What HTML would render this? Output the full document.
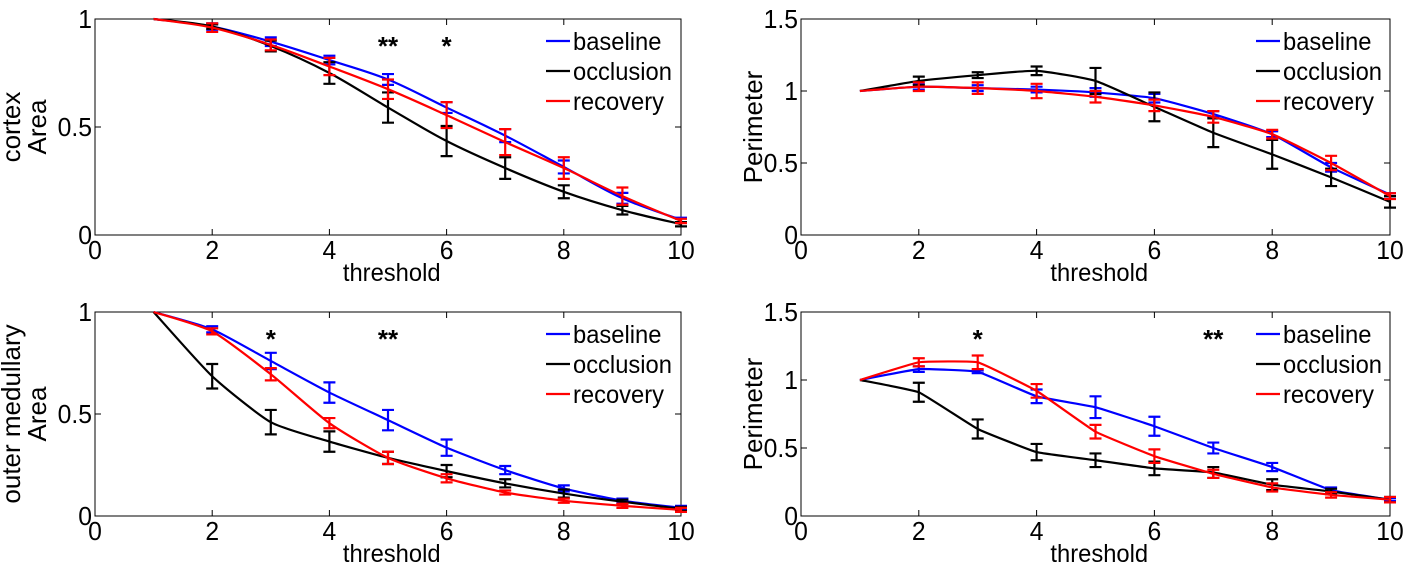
<!DOCTYPE html>
<html><head><meta charset="utf-8">
<style>
html,body{margin:0;padding:0;background:#fff;}
svg{display:block;font-family:"Liberation Sans",Arial,sans-serif;}
</style></head>
<body>
<svg id="fig" width="1414" height="571" viewBox="0 0 1414 571" xmlns="http://www.w3.org/2000/svg"></svg>
<script>
const xCats = [1,2,3,4,5,6,7,8,9,10];
const xTicks = [0,2,4,6,8,10];
// Panel A: cortex area
const aBase = [1,0.965,0.895,0.81,0.72,0.59,0.46,0.315,0.17,0.07];
const aBaseErr = [0,0.015,0.02,0.02,0.025,0.025,0.03,0.03,0.025,0.01];
const aOcc = [1,0.965,0.875,0.75,0.59,0.435,0.31,0.2,0.115,0.05];
const aOccErr = [0,0.01,0.025,0.05,0.07,0.07,0.05,0.03,0.02,0.01];
const aRec = [1,0.96,0.88,0.78,0.675,0.555,0.43,0.31,0.18,0.065];
const aRecErr = [0,0.02,0.025,0.04,0.045,0.06,0.06,0.05,0.04,0.01];
const aStars = [[5,"**"],[6,"*"]];
// Panel B: cortex perimeter
const bBase = [1,1.03,1.02,1.01,0.99,0.95,0.84,0.70,0.47,0.28];
const bBaseErr = [0,0.02,0.02,0.02,0.03,0.03,0.02,0.02,0.03,0.01];
const bOcc = [1,1.07,1.11,1.14,1.07,0.89,0.71,0.56,0.40,0.23];
const bOccErr = [0,0.03,0.02,0.03,0.09,0.1,0.1,0.1,0.06,0.04];
const bRec = [1,1.03,1.02,1.00,0.96,0.90,0.82,0.70,0.50,0.27];
const bRecErr = [0,0.03,0.04,0.05,0.04,0.04,0.04,0.03,0.05,0.02];
const bStars = [];
// Panel C: outer medullary area
const cBase = [1,0.915,0.76,0.605,0.47,0.335,0.225,0.135,0.075,0.04];
const cBaseErr = [0,0.015,0.04,0.05,0.05,0.04,0.02,0.015,0.01,0.01];
const cOcc = [1,0.685,0.46,0.365,0.285,0.22,0.16,0.11,0.07,0.035];
const cOccErr = [0,0.06,0.06,0.05,0.03,0.03,0.02,0.02,0.01,0.01];
const cRec = [1,0.905,0.695,0.455,0.285,0.185,0.115,0.075,0.05,0.03];
const cRecErr = [0,0.015,0.03,0.025,0.03,0.02,0.01,0.01,0.01,0.01];
const cStars = [[3,"*"],[5,"**"]];
// Panel D: outer medullary perimeter
const dBase = [1,1.08,1.06,0.88,0.80,0.66,0.50,0.36,0.19,0.12];
const dBaseErr = [0,0.02,0.01,0.05,0.08,0.07,0.04,0.03,0.02,0.01];
const dOcc = [1,0.91,0.64,0.47,0.41,0.35,0.32,0.23,0.18,0.12];
const dOccErr = [0,0.07,0.07,0.06,0.05,0.05,0.04,0.04,0.02,0.02];
const dRec = [1,1.13,1.13,0.92,0.62,0.44,0.31,0.21,0.155,0.12];
const dRecErr = [0,0.03,0.05,0.05,0.05,0.05,0.03,0.03,0.02,0.02];
const dStars = [[3,"*"],[7,"**"]];

const NS="http://www.w3.org/2000/svg";
const svg=document.getElementById('fig');
function mk(tag,attrs,parent){const e=document.createElementNS(NS,tag);for(const k in attrs)e.setAttribute(k,attrs[k]);(parent||svg).appendChild(e);return e;}

function smoothPath(pts,tension){
  let d="M"+pts[0][0]+","+pts[0][1];
  for(let i=0;i<pts.length-1;i++){
    const p0=pts[i-1]||pts[i],p1=pts[i],p2=pts[i+1],p3=pts[i+2]||p2;
    const t=tension/3;
    d+=" C"+(p1[0]+(p2[0]-p0[0])*t)+","+(p1[1]+(p2[1]-p0[1])*t)+" "+(p2[0]-(p3[0]-p1[0])*t)+","+(p2[1]-(p3[1]-p1[1])*t)+" "+p2[0]+","+p2[1];
  }
  return d;
}
function sc(x,k){return `translate(${x} 0) scale(${k} 1) translate(${-x} 0)`;}

function panel(cfg){
  const g=mk('g',{});
  
  
  const {L,R,T,B,ymax,yTicks}=cfg;
  const sx=v=>L+(R-L)*v/10, sy=v=>B-(B-T)*v/ymax;
  mk('rect',{x:L,y:T,width:R-L,height:B-T,fill:'#fff',stroke:'#000','stroke-width':1},g);
  xTicks.forEach(t=>{
    const x=sx(t);
    mk('line',{x1:x,y1:B,x2:x,y2:B-6,stroke:'#000'},g);
    mk('line',{x1:x,y1:T,x2:x,y2:T+6,stroke:'#000'},g);
    const tx=mk('text',{x:x,y:B+24,'font-size':26,'text-anchor':'middle',transform:sc(x,0.95)},g);
    tx.textContent=t;
    
    
  });
  yTicks.forEach(t=>{
    const y=sy(t);
    mk('line',{x1:L,y1:y,x2:L+6,y2:y,stroke:'#000'},g);
    mk('line',{x1:R,y1:y,x2:R-6,y2:y,stroke:'#000'},g);
    const tx=mk('text',{x:L-3,y:y+9,'font-size':26,'text-anchor':'end',transform:sc(L-3,0.95)},g);
    tx.textContent=t;
    
    
  });
  const xcx=(sx(4.2)+sx(6.2))/2-8;
  const xl=mk('text',{x:xcx,y:B+46,'font-size':25,'text-anchor':'middle',transform:sc(xcx,0.95)},g);
  xl.textContent='threshold';
  
  
  cfg.ylabels.forEach(([txt,xp])=>{
    const yl=mk('text',{x:xp,y:(T+B)/2,'font-size':26,'text-anchor':'middle',transform:`rotate(-90 ${xp} ${(T+B)/2})`},g);
    yl.textContent=txt;
    
    
  });
  cfg.series.forEach(s=>{
    const pts=xCats.map((c,i)=>[sx(c),sy(s.v[i])]);
    const p=mk('path',{d:smoothPath(pts,cfg.tension),fill:'none',stroke:s.color,'stroke-width':2.2},g);
    
    
    xCats.forEach((c,i)=>{
      if(i===0)return;
      const x=sx(c),y1=sy(s.v[i]+s.e[i]),y2=sy(s.v[i]-s.e[i]);
      const eb=mk('path',{d:`M${x},${y1}V${y2}M${x-6},${y1}H${x+6}M${x-6},${y2}H${x+6}`,stroke:s.color,'stroke-width':2.2,fill:'none'},g);
      
      
    });
  });
  cfg.stars.forEach(([c,s])=>{
    const st=mk('text',{x:sx(c),y:T+36,'font-size':26,'font-weight':'bold','text-anchor':'middle'},g);
    st.textContent=s;
    
    
  });
  const lg=mk('g',{},g);
  
  
  cfg.series.forEach((s,i)=>{
    const y=T+22+i*30;
    mk('line',{x1:cfg.legX,y1:y,x2:cfg.legX+24,y2:y,stroke:s.color,'stroke-width':2.2},lg);
    const tx=cfg.legX+27;
    const t=mk('text',{x:tx,y:y+9,'font-size':25,transform:sc(tx,0.95)},lg);
    t.textContent=s.key;
    
    
  });
}
const ser=(b,be,o,oe,r,re)=>[
  {key:'baseline',color:'#0000ff',v:b,e:be},
  {key:'occlusion',color:'#000000',v:o,e:oe},
  {key:'recovery',color:'#ff0000',v:r,e:re}];
panel({name:'cortex-area-chart',L:95,R:681,T:19,B:235,ymax:1,yTicks:[0,0.5,1],ylabels:[['cortex',20],['Area',46]],series:ser(aBase,aBaseErr,aOcc,aOccErr,aRec,aRecErr),stars:aStars,legX:546,tension:0.5});
panel({name:'cortex-perimeter-chart',L:801,R:1390,T:19,B:235,ymax:1.5,yTicks:[0,0.5,1,1.5],ylabels:[['Perimeter',762]],series:ser(bBase,bBaseErr,bOcc,bOccErr,bRec,bRecErr),stars:bStars,legX:1256,tension:0.25});
panel({name:'outer-medullary-area-chart',L:95,R:681,T:312,B:516,ymax:1,yTicks:[0,0.5,1],ylabels:[['outer medullary',20],['Area',46]],series:ser(cBase,cBaseErr,cOcc,cOccErr,cRec,cRecErr),stars:cStars,legX:546,tension:0.3});
panel({name:'outer-medullary-perimeter-chart',L:801,R:1390,T:312,B:516,ymax:1.5,yTicks:[0,0.5,1,1.5],ylabels:[['Perimeter',762]],series:ser(dBase,dBaseErr,dOcc,dOccErr,dRec,dRecErr),stars:dStars,legX:1256,tension:0.15});
</script>
</body></html>
